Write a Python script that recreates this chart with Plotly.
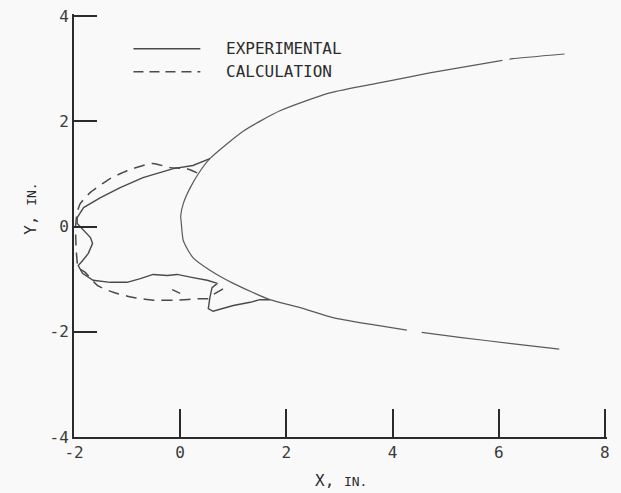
import plotly.graph_objects as go

# Shock-wave contour: outer bow (upper branch, inner nose, lower branch)
bow_x = [7.24, 6.26, 6.20, None, 6.07, 4.70, 3.80, 2.82, 1.88, 1.20, 0.56,
         0.38, 0.19, 0.06, 0.01, 0.02, 0.06, 0.24, 0.56, 1.00, 1.69,
         2.26, 2.88, 3.60, 4.27, None, 4.55, 5.30, 6.20, 7.14]
bow_y = [3.28, 3.19, 3.18, None, 3.16, 2.92, 2.74, 2.54, 2.20, 1.82, 1.29,
         1.06, 0.74, 0.44, 0.20, 0.08, -0.27, -0.59, -0.83, -1.08, -1.39,
         -1.54, -1.73, -1.86, -1.97, None, -2.01, -2.11, -2.22, -2.33]

# Experimental boundary ahead of the body
exp_x = [0.56, 0.24, -0.13, -0.70, -1.13, -1.50, -1.82, -1.94, -1.94,
         -1.82, -1.69, -1.65, -1.73, -1.84, -1.92, -1.84, -1.64, -1.32,
         -1.00, -0.75, -0.51, -0.24, -0.06, 0.24, 0.51, 0.70, 0.60, 0.56,
         0.53, 0.62, 0.81, 1.00, 1.32, 1.50, 1.69]
exp_y = [1.29, 1.16, 1.10, 0.93, 0.74, 0.55, 0.36, 0.17, 0.06,
         -0.08, -0.21, -0.32, -0.51, -0.65, -0.74, -0.89, -1.02, -1.06,
         -1.06, -0.99, -0.91, -0.93, -0.91, -0.97, -1.02, -1.08, -1.16, -1.35,
         -1.56, -1.61, -1.56, -1.50, -1.44, -1.39, -1.39]

# Calculated boundary
calc_x = [0.32, 0.13, -0.19, -0.51, -0.70, -1.00, -1.32, -1.69, -1.88, -1.94,
          -1.97, -1.96, -1.92, -1.79, -1.56, -1.26, -0.88, -0.51, -0.06, 0.38,
          0.53, 0.66, 0.85, None, -0.15, 0.00]
calc_y = [1.02, 1.10, 1.12, 1.20, 1.16, 1.06, 0.91, 0.65, 0.44, 0.27,
          0.00, -0.40, -0.78, -0.87, -1.12, -1.25, -1.35, -1.40, -1.40, -1.37,
          -1.37, -1.27, -1.16, None, -1.20, -1.27]

x_ticks = [-2, 0, 2, 4, 6, 8]
y_ticks = [-4, -2, 0, 2, 4]

INK = "#2b2b2b"
LINE = "#4a4a4a"
FONT = "DejaVu Sans Mono"

fig = go.Figure()
fig.add_trace(go.Scatter(x=bow_x, y=bow_y, mode="lines", name="EXPERIMENTAL",
                         line=dict(color="#5a5a5a", width=1.2, shape="spline", smoothing=0.6),
                         connectgaps=False, showlegend=False))
fig.add_trace(go.Scatter(x=exp_x, y=exp_y, mode="lines", name="EXPERIMENTAL",
                         line=dict(color=LINE, width=1.4),
                         showlegend=False))
fig.add_trace(go.Scatter(x=calc_x, y=calc_y, mode="lines", name="CALCULATION",
                         line=dict(color=LINE, width=1.5, dash="11px,7px",
                                   shape="spline", smoothing=0.5),
                         connectgaps=False, showlegend=False))

# Key
shapes = [
    dict(type="line", xref="x", yref="y", x0=-0.88, x1=0.38, y0=3.38, y1=3.38,
         line=dict(color=LINE, width=1.5)),
    dict(type="line", xref="x", yref="y", x0=-0.88, x1=0.38, y0=2.94, y1=2.94,
         line=dict(color=LINE, width=1.5, dash="10px,6px")),
]
annotations = [
    dict(x=0.82, y=3.38, xref="x", yref="y", text="EXPERIMENTAL", showarrow=False,
         xanchor="left", yanchor="middle", font=dict(family=FONT, size=16, color=INK)),
    dict(x=0.82, y=2.94, xref="x", yref="y", text="CALCULATION", showarrow=False,
         xanchor="left", yanchor="middle", font=dict(family=FONT, size=16, color=INK)),
    dict(x=0.501, y=-0.102, xref="paper", yref="paper",
         text="X, <span style='font-size:13px'>IN.</span>", showarrow=False,
         xanchor="center", yanchor="middle", font=dict(family=FONT, size=16, color=INK)),
    dict(x=-0.083, y=0.539, xref="paper", yref="paper", textangle=-90,
         text="Y, <span style='font-size:13px'>IN.</span>", showarrow=False,
         xanchor="center", yanchor="middle", font=dict(family=FONT, size=16, color=INK)),
]

fig.update_layout(
    width=621, height=493,
    margin=dict(l=74, r=14, t=14, b=56),
    paper_bgcolor="#f9f9f9", plot_bgcolor="#f9f9f9",
    shapes=shapes, annotations=annotations,
    font=dict(family=FONT, size=16, color=INK),
)
# ranges padded slightly so the end ticks at 8 and 4 are drawn
fig.update_xaxes(range=[-2, 8.04], showgrid=False, zeroline=False,
                 showline=True, linecolor=INK, linewidth=2,
                 ticks="inside", ticklen=28, tickwidth=1.5, tickcolor=INK,
                 tickvals=x_ticks, ticktext=[str(v) for v in x_ticks],
                 tickfont=dict(family=FONT, size=16, color="#3a3a3a"), automargin=False)
fig.update_yaxes(range=[-4, 4.04], showgrid=False, zeroline=False,
                 showline=True, linecolor=INK, linewidth=2,
                 ticks="inside", ticklen=23, tickwidth=1.5, tickcolor=INK,
                 tickvals=y_ticks, ticktext=[str(v) for v in y_ticks],
                 tickfont=dict(family=FONT, size=16, color="#3a3a3a"), automargin=False)

fig.write_html("out.html")
